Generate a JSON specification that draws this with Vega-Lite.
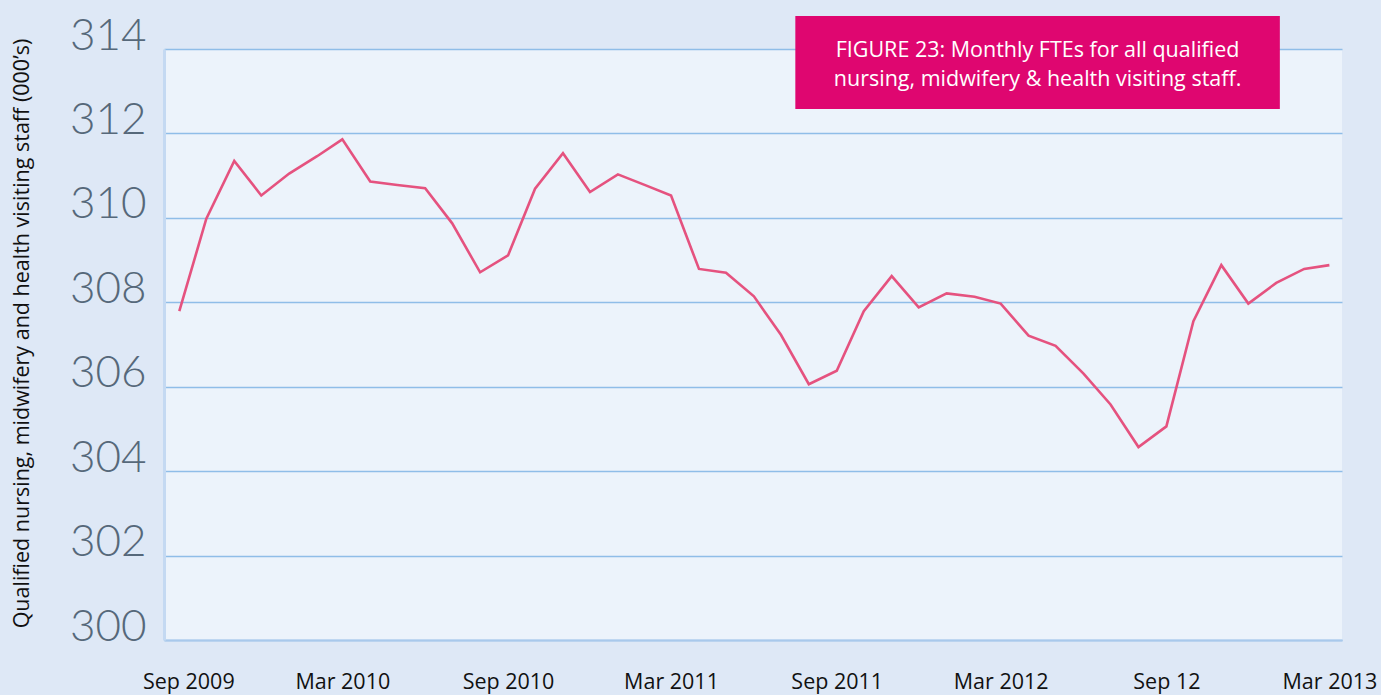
{
  "$schema": "https://vega.github.io/schema/vega-lite/v6.json",
  "width": 1178,
  "height": 591,
  "autosize": {"type": "none"},
  "padding": {"left": 164, "top": 49, "right": 39, "bottom": 55},
  "background": "#dee8f6",
  "config": {
    "view": {"fill": "#ecf3fb", "stroke": null},
    "font": "Open Sans"
  },
  "datasets": {
    "fte": [
      {"month": "2009-09-01", "fte": 307.79},
      {"month": "2009-10-01", "fte": 309.98},
      {"month": "2009-11-01", "fte": 311.35},
      {"month": "2009-12-01", "fte": 310.53},
      {"month": "2010-01-01", "fte": 311.05},
      {"month": "2010-02-01", "fte": 311.46},
      {"month": "2010-03-01", "fte": 311.86},
      {"month": "2010-04-01", "fte": 310.86},
      {"month": "2010-05-01", "fte": 310.78},
      {"month": "2010-06-01", "fte": 310.70},
      {"month": "2010-07-01", "fte": 309.87},
      {"month": "2010-08-01", "fte": 308.71},
      {"month": "2010-09-01", "fte": 309.11},
      {"month": "2010-10-01", "fte": 310.69},
      {"month": "2010-11-01", "fte": 311.53},
      {"month": "2010-12-01", "fte": 310.61},
      {"month": "2011-01-01", "fte": 311.03},
      {"month": "2011-02-01", "fte": 310.77},
      {"month": "2011-03-01", "fte": 310.53},
      {"month": "2011-04-01", "fte": 308.79},
      {"month": "2011-05-01", "fte": 308.70},
      {"month": "2011-06-01", "fte": 308.14},
      {"month": "2011-07-01", "fte": 307.23},
      {"month": "2011-08-01", "fte": 306.06},
      {"month": "2011-09-01", "fte": 306.38},
      {"month": "2011-10-01", "fte": 307.79},
      {"month": "2011-11-01", "fte": 308.62},
      {"month": "2011-12-01", "fte": 307.88},
      {"month": "2012-01-01", "fte": 308.21},
      {"month": "2012-02-01", "fte": 308.13},
      {"month": "2012-03-01", "fte": 307.97},
      {"month": "2012-04-01", "fte": 307.21},
      {"month": "2012-05-01", "fte": 306.97},
      {"month": "2012-06-01", "fte": 306.31},
      {"month": "2012-07-01", "fte": 305.58},
      {"month": "2012-08-01", "fte": 304.57},
      {"month": "2012-09-01", "fte": 305.06},
      {"month": "2012-10-01", "fte": 307.55},
      {"month": "2012-11-01", "fte": 308.88},
      {"month": "2012-12-01", "fte": 307.97},
      {"month": "2013-01-01", "fte": 308.46},
      {"month": "2013-02-01", "fte": 308.79},
      {"month": "2013-03-01", "fte": 308.88}
    ],
    "caption": [
      {"start": "2011-07-17", "end": "2013-01-05", "mid": "2012-04-11", "top": 314.78, "bottom": 312.58, "firstline": 313.95,
       "label": "FIGURE 23: Monthly FTEs for all qualified\nnursing, midwifery & health visiting staff."}
    ]
  },
  "layer": [
    {
      "data": {"name": "fte"},
      "mark": {"type": "line", "color": "#e5527f", "strokeWidth": 2.6},
      "encoding": {
        "x": {
          "field": "month",
          "type": "temporal",
          "scale": {"type": "utc", "domain": ["2009-08-15", "2013-03-15"]},
          "axis": {
            "values": ["2009-09-01", "2010-03-01", "2010-09-01", "2011-03-01", "2011-09-01", "2012-03-01", "2012-09-01", "2013-03-01"],
            "labelExpr": "utcFormat(datum.value, '%b %Y') == 'Sep 2012' ? 'Sep 12' : utcFormat(datum.value, '%b %Y')",
            "labelOffset": {"condition": {"test": "utcFormat(datum.value, '%Y-%m') == '2009-09'", "value": 9}, "value": 0},
            "title": null,
            "grid": false,
            "ticks": false,
            "labelPadding": 31,
            "labelFontSize": 21.5,
            "labelFontWeight": "normal",
            "labelColor": "#111111",
            "labelFont": "Open Sans",
            "domainColor": "#a9c9ec",
            "domainWidth": 2
          }
        },
        "y": {
          "field": "fte",
          "type": "quantitative",
          "scale": {"domain": [300, 314], "nice": false, "zero": false},
          "axis": {
            "values": [300, 302, 304, 306, 308, 310, 312, 314],
            "title": "Qualified nursing, midwifery and health visiting staff (000’s)",
            "titleFontSize": 21.5,
            "titleFontWeight": "normal",
            "titleColor": "#111111",
            "titleFont": "Open Sans",
            "titleAngle": 270,
            "titleX": -142,
            "titleY": 284,
            "titleAlign": "center",
            "titleBaseline": "middle",
            "labelFontSize": 44,
            "labelFontWeight": 300,
            "labelFont": "Lato",
            "labelColor": "#56687a",
            "labelPadding": 18,
            "labelOffset": -13,
            "ticks": false,
            "grid": true,
            "gridColor": "#8fbde8",
            "gridWidth": 1.3,
            "domainColor": "#c4d9f2",
            "domainWidth": 3
          }
        }
      }
    },
    {
      "data": {"name": "caption"},
      "mark": {"type": "rect", "color": "#df0670"},
      "encoding": {
        "x": {"field": "start", "type": "temporal"},
        "x2": {"field": "end"},
        "y": {"field": "top", "type": "quantitative"},
        "y2": {"field": "bottom"}
      }
    },
    {
      "data": {"name": "caption"},
      "mark": {"type": "text", "color": "#ffffff", "fontSize": 21.5, "font": "Open Sans", "lineHeight": 29, "lineBreak": "\n", "align": "center", "baseline": "middle"},
      "encoding": {
        "x": {"field": "mid", "type": "temporal"},
        "y": {"field": "firstline", "type": "quantitative"},
        "text": {"field": "label"}
      }
    }
  ]
}
